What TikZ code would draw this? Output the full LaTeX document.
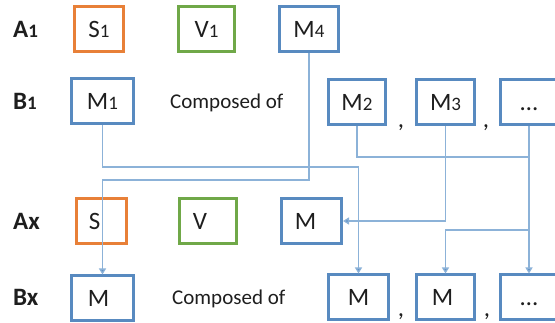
\documentclass[tikz,border=0pt]{standalone}
\usepackage{fontspec}
\setmainfont{Carlito}
\usetikzlibrary{arrows.meta}

\definecolor{boxorange}{RGB}{232,128,56}
\definecolor{boxgreen}{RGB}{112,168,72}
\definecolor{boxblue}{RGB}{88,138,192}
\definecolor{linkblue}{RGB}{140,178,216}
\definecolor{inktext}{RGB}{30,30,30}

% smaller digit used for the indices (S1, M4, A1, ...)
\newcommand\idx[1]{{\fontsize{19}{19}\selectfont #1}}
% ellipsis sitting on the same baseline as the letters
\newcommand\etc{\vphantom{M}…}

\begin{document}
\begin{tikzpicture}[x=1pt,y=-1pt,
  box/.style={draw, line width=3pt, inner sep=0pt, minimum height=45pt,
    text=inktext, font=\fontsize{25}{25}\selectfont},
  obox/.style={box, draw=boxorange},
  gbox/.style={box, draw=boxgreen},
  bbox/.style={box, draw=boxblue},
  rowlabel/.style={anchor=base west, inner sep=0pt, text=inktext,
    font=\fontsize{25}{25}\selectfont\bfseries},
  phrase/.style={anchor=base west, inner sep=0pt, text=inktext,
    font=\fontsize{21}{21}\selectfont},
  sep/.style={anchor=base, inner sep=0pt, text=inktext,
    font=\fontsize{25}{25}\selectfont},
  link/.style={draw=linkblue, line width=1.3pt},
  arrowlink/.style={link, -{Triangle[width=7pt,length=6pt,fill=boxblue!80!linkblue]}}
]
\useasboundingbox (0,0) rectangle (555,323);
\clip (0,0) rectangle (555,323);

% row A1
\node[rowlabel] (lA1) at (13,38) {A\idx{1}};
\node[obox, minimum width=49pt] (S1) at (99,29) {S\idx{1}};
\node[gbox, minimum width=56pt] (V1) at (206.5,29) {V\idx{1}};
\node[bbox, minimum width=59pt] (M4) at (309,29) {M\idx{4}};

% row B1
\node[rowlabel] (lB1) at (13,110) {B\idx{1}};
\node[bbox, minimum width=62pt] (M1) at (102.5,101.5) {M\idx{1}};
\node[phrase] (c1) at (170,108.5) {Composed of};
\node[bbox, minimum width=57pt] (M2) at (357,102.5) {M\idx{2}};
\node[sep] (k1) at (401,128) {,};
\node[bbox, minimum width=58pt] (M3) at (445.5,102.5) {M\idx{3}};
\node[sep] (k2) at (486,128) {,};
\node[bbox, minimum width=57pt] (D1) at (529,102.5) {\etc};

% row Ax
\node[rowlabel] (lAx) at (13,230) {Ax};
\node[obox, minimum width=50pt] (S) at (101.5,221) {S\kern14pt};
\node[gbox, minimum width=57pt] (V) at (208,221) {V\kern16pt};
\node[bbox, minimum width=60pt] (M) at (311.5,221) {M\kern12pt};

% row Bx
\node[rowlabel] (lBx) at (13,306) {Bx};
\node[bbox, minimum width=62pt] (N1) at (102.5,298.5) {M\kern8pt};
\node[phrase] (c2) at (172,305) {Composed of};
\node[bbox, minimum width=60pt] (N2) at (358.5,297.5) {M};
\node[sep] (k3) at (401,316.5) {,};
\node[bbox, minimum width=58pt] (N3) at (445.5,297.5) {M\kern6pt};
\node[sep] (k4) at (487,316.5) {,};
\node[bbox, minimum width=57pt] (N4) at (529,297.5) {\etc};

% bend points of the links
\coordinate (b4) at (200,180);
\coordinate (b1) at (200,167);
\coordinate (j2) at (529,157);
\coordinate (jb) at (529,230);

% links
\draw[arrowlink] (M4.south) |- (b4) -| (N1.north);
\draw[arrowlink] (M1.south) |- (b1) -| (N2.north);
\draw[link] (M2.south) |- (j2);
\draw[arrowlink] (D1.south) -- (N4.north);
\draw[arrowlink] (jb) -| (N3.north);
\draw[arrowlink] (M3.south) |- (M.east);
\end{tikzpicture}
\end{document}
